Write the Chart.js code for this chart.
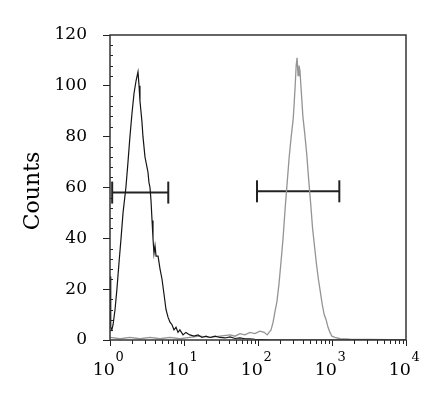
<!DOCTYPE html>
<html>
<head>
<meta charset="utf-8">
<script src="https://cdn.jsdelivr.net/npm/chart.js@4"></script>
<style>
  html, body { margin: 0; padding: 0; background: #fff; }
  #wrap { width: 445px; height: 399px; }
</style>
</head>
<body>
<div id="wrap"><canvas id="histChart" width="445" height="399"></canvas></div>
<script>
// fluorescence channel (log) and counts
const blackX = [1, 1.016, 1.03, 1.06, 1.10, 1.17, 1.24, 1.32, 1.41, 1.50, 1.64, 1.75, 1.86, 1.98, 2.11, 2.25, 2.39, 2.47, 2.54, 2.62, 2.70, 2.79, 2.88, 2.97, 3.16, 3.26, 3.36, 3.47, 3.58, 3.70, 3.81, 3.93, 4.06, 4.19, 4.46, 4.74, 5.04, 5.37, 5.71, 6.08, 6.47, 6.88, 7.32, 7.8, 8.3, 8.8, 9.7, 10.6, 12.0, 13.6, 15.5, 17.5, 19.8, 22.5, 26.3, 30.6, 35.9, 41.9, 48.9, 57, 66.6, 77.8, 90.8, 106, 150, 1000, 10000];
const blackY = [25, 14, 5, 4, 6, 12, 20, 30, 40, 50, 60, 70, 80, 89, 97, 102, 105.5, 100, 94, 90, 86, 80, 76, 72, 68, 66, 62, 60, 55, 47, 40, 34, 37, 33, 33, 28, 24, 18, 12, 9, 7, 6, 4, 5, 3, 4, 2, 3, 2, 1.5, 2, 1, 1.5, 1, 1.5, 1, 0.8, 1.2, 0.6, 0.8, 0.5, 0.5, 0.3, 0.2, 0, 0, 0];

const grayX = [1, 1.37, 1.86, 2.54, 3.47, 4.74, 6.47, 8.8, 12.0, 16.4, 22.5, 30.6, 41.9, 48.9, 57, 66.6, 77.8, 90.8, 106, 121, 133, 141, 150, 160, 169, 180, 192, 205, 218, 233, 248, 264, 281, 299, 308, 318, 328, 337, 348, 358, 369, 380, 392, 404, 429, 456, 484, 514, 546, 580, 616, 654, 695, 738, 784, 832, 884, 939, 997, 1094, 1288, 1747, 3246, 10000];
const grayY = [1, 0.5, 1, 0.5, 1, 0.5, 1, 0.5, 1, 1.5, 1, 1.5, 2, 1.5, 2.5, 2, 3, 2.5, 3.5, 3, 2, 3, 4, 7, 11, 15, 22, 31, 40, 52, 62, 72, 80, 87, 93, 100, 108, 111, 104, 108, 106, 100, 94, 88, 81, 73, 63, 54, 44, 37, 30, 24, 19, 14, 10, 8, 5, 3, 1.5, 1, 0.5, 0.3, 0.2, 0];

// gate markers
const gateLowX = [1.07, 6.13];
const gateLowY = 58;
const gateHighX = [97, 1256];
const gateHighY = 58.5;

const yTicks = [0, 20, 40, 60, 80, 100, 120];
const xDecades = [1, 10, 100, 1000, 10000];

const serif = 'DejaVu Serif';

function toPoints(xs, ys) {
    return xs.map((x, i) => ({ x: x, y: ys[i] }));
}

const axisPlugin = {
    id: 'axisPlugin',
    afterDraw(chart) {
        const ctx = chart.ctx;
        const xs = chart.scales.x;
        const ys = chart.scales.y;
        const a = chart.chartArea;
        ctx.save();
        ctx.strokeStyle = '#222';
        ctx.lineWidth = 1;

        // minor ticks on y, inside
        for (let v = 0; v <= 120; v += 4) {
            if (v % 20 === 0) continue;
            const py = Math.round(ys.getPixelForValue(v)) + 0.5;
            ctx.beginPath();
            ctx.moveTo(a.left, py);
            ctx.lineTo(a.left + 3, py);
            ctx.stroke();
        }

        // x ticks, major decades and minor 2..9
        xDecades.forEach((d, i) => {
            const px = Math.round(xs.getPixelForValue(d)) + 0.5;
            ctx.beginPath();
            ctx.moveTo(px, a.bottom);
            ctx.lineTo(px, a.bottom + 6);
            ctx.stroke();
            if (i < xDecades.length - 1) {
                for (let m = 2; m <= 9; m++) {
                    const mx = Math.round(xs.getPixelForValue(d * m)) + 0.5;
                    ctx.beginPath();
                    ctx.moveTo(mx, a.bottom);
                    ctx.lineTo(mx, a.bottom + 4);
                    ctx.stroke();
                }
            }
        });

        // frame
        ctx.strokeStyle = '#333';
        ctx.lineWidth = 1.5;
        ctx.strokeRect(a.left, a.top, a.right - a.left, a.bottom - a.top);

        // x labels 10^n
        ctx.fillStyle = '#000';
        ctx.textBaseline = 'alphabetic';
        xDecades.forEach((d, i) => {
            const px = xs.getPixelForValue(d);
            ctx.font = '17.5px "' + serif + '"';
            ctx.textAlign = 'right';
            ctx.fillText('10', px + 5, 375);
            ctx.font = '13px "' + serif + '"';
            ctx.textAlign = 'left';
            ctx.fillText(String(i), px + 5.5, 361);
        });

        // y title
        ctx.translate(33, 191);
        ctx.rotate(-Math.PI / 2);
        ctx.font = '22px "' + serif + '"';
        ctx.textAlign = 'center';
        ctx.textBaseline = 'middle';
        ctx.fillText('Counts', 0, 0);
        ctx.restore();
    }
};

function renderHistogram() {
    const ctx = document.getElementById('histChart');
    if (!ctx) {
        console.error('Element with id "histChart" not found.');
        return;
    }
    new Chart(ctx.getContext('2d'), {
        type: 'line',
        data: {
            datasets: [
                {
                    label: 'control',
                    data: toPoints(blackX, blackY),
                    borderColor: '#151515',
                    borderWidth: 1.2,
                    pointRadius: 0,
                    tension: 0
                },
                {
                    label: 'stained',
                    data: toPoints(grayX, grayY),
                    borderColor: '#949494',
                    borderWidth: 1.3,
                    pointRadius: 0,
                    tension: 0
                },
                {
                    label: 'gate 1',
                    data: gateLowX.map(x => ({ x: x, y: gateLowY })),
                    borderColor: '#222',
                    borderWidth: 2,
                    pointStyle: 'line',
                    pointRotation: 90,
                    pointRadius: 11,
                    pointBorderWidth: 2,
                    pointBorderColor: '#222'
                },
                {
                    label: 'gate 2',
                    data: gateHighX.map(x => ({ x: x, y: gateHighY })),
                    borderColor: '#222',
                    borderWidth: 2,
                    pointStyle: 'line',
                    pointRotation: 90,
                    pointRadius: 11,
                    pointBorderWidth: 2,
                    pointBorderColor: '#222'
                }
            ]
        },
        options: {
            responsive: false,
            animation: false,
            layout: { padding: { top: 35, right: 39, left: 0, bottom: 0 } },
            plugins: {
                legend: { display: false },
                tooltip: { enabled: false }
            },
            scales: {
                x: {
                    type: 'logarithmic',
                    min: 1,
                    max: 10000,
                    grid: { display: false },
                    border: { display: false },
                    ticks: { display: false },
                    afterFit(scale) { scale.height = 59; }
                },
                y: {
                    min: 0,
                    max: 120,
                    afterBuildTicks(scale) {
                        scale.ticks = yTicks.map(v => ({ value: v }));
                    },
                    grid: {
                        display: true,
                        drawOnChartArea: false,
                        drawTicks: true,
                        tickLength: 7,
                        color: '#222'
                    },
                    border: { display: false },
                    ticks: {
                        padding: 16,
                        color: '#000',
                        font: { family: serif, size: 17 }
                    },
                    afterFit(scale) { scale.width = 110; }
                }
            }
        },
        plugins: [axisPlugin]
    });
}

renderHistogram();
</script>
</body>
</html>
